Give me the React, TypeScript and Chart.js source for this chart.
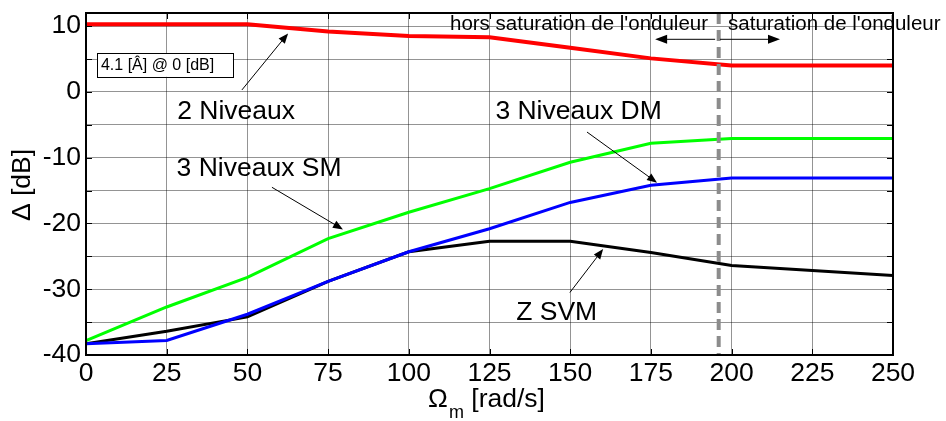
import React, { useEffect, useRef } from "react";
import { Chart, registerables } from "chart.js";

Chart.register(...registerables);

const omega = [0, 25, 50, 75, 100, 125, 150, 175, 200, 250];
const niveaux2 = [10.3, 10.3, 10.3, 9.2, 8.5, 8.3, 6.7, 5.1, 4.0, 4.0];
const niveaux3SM = [-37.8, -32.7, -28.2, -22.3, -18.3, -14.7, -10.7, -7.8, -7.1, -7.1];
const niveaux3DM = [-38.3, -37.8, -33.8, -28.8, -24.3, -20.8, -16.8, -14.2, -13.1, -13.1];
const zSVM = [-38.3, -36.4, -34.2, -28.8, -24.3, -22.7, -22.7, -24.4, -26.4, -27.9];

const xTicks = [0, 25, 50, 75, 100, 125, 150, 175, 200, 225, 250];
const yTicks = [-40, -30, -20, -10, 0, 10];
const saturationX = 196;

// text annotations in data coordinates
const labels = [
  { text: "2 Niveaux", x: 46.5, y: -3.0 },
  { text: "3 Niveaux SM", x: 53.6, y: -11.6 },
  { text: "3 Niveaux DM", x: 152.6, y: -3.0 },
  { text: "Z SVM", x: 145.8, y: -33.6 },
];
const pointerArrows = [
  { x1: 48.3, y1: 0.3, x2: 62.6, y2: 8.9 },
  { x1: 57.6, y1: -14.5, x2: 79.6, y2: -20.9 },
  { x1: 155.2, y1: -6.1, x2: 176.9, y2: -13.8 },
  { x1: 149.9, y1: -30.5, x2: 160.2, y2: -23.9 },
];

const FONT = "'Liberation Sans', Arial, Helvetica, sans-serif";
const BIG = 26.5;

function toPts(ys: number[]) {
  return omega.map((x, i) => ({ x, y: ys[i] }));
}

function arrowHead(ctx: CanvasRenderingContext2D, x1: number, y1: number, x2: number, y2: number, len: number, half: number) {
  const a = Math.atan2(y2 - y1, x2 - x1);
  ctx.beginPath();
  ctx.moveTo(x2, y2);
  ctx.lineTo(x2 - len * Math.cos(a) + half * Math.sin(a), y2 - len * Math.sin(a) - half * Math.cos(a));
  ctx.lineTo(x2 - len * Math.cos(a) - half * Math.sin(a), y2 - len * Math.sin(a) + half * Math.cos(a));
  ctx.closePath();
  ctx.fill();
}

const decorPlugin = {
  id: "decor",
  afterDatasetsDraw(chart: any) {
    const { ctx, chartArea: ca, scales } = chart;
    const xs = scales.x;
    ctx.save();
    const sx = xs.getPixelForValue(saturationX);
    ctx.strokeStyle = "#8c8c8c";
    ctx.lineWidth = 4;
    ctx.setLineDash([11, 6]);
    ctx.beginPath();
    ctx.moveTo(sx, ca.top);
    ctx.lineTo(sx, ca.bottom);
    ctx.stroke();
    ctx.setLineDash([]);
    ctx.restore();
  },
  afterDraw(chart: any) {
    const { ctx, chartArea: ca, scales } = chart;
    const xs = scales.x;
    const ys = scales.y;
    ctx.save();
    // inward tick marks
    ctx.strokeStyle = "#000";
    ctx.lineWidth = 1;
    for (let v = 0; v <= 250; v += 25) {
      const px = Math.round(xs.getPixelForValue(v)) + 0.5;
      ctx.beginPath();
      ctx.moveTo(px, ca.bottom);
      ctx.lineTo(px, ca.bottom - 6);
      ctx.moveTo(px, ca.top);
      ctx.lineTo(px, ca.top + 6);
      ctx.stroke();
    }
    for (let v = -40; v <= 10; v += 5) {
      const py = Math.round(ys.getPixelForValue(v)) + 0.5;
      ctx.beginPath();
      ctx.moveTo(ca.left, py);
      ctx.lineTo(ca.left + 6, py);
      ctx.moveTo(ca.right, py);
      ctx.lineTo(ca.right - 6, py);
      ctx.stroke();
    }
    // frame
    ctx.lineWidth = 2;
    ctx.strokeRect(ca.left, ca.top, ca.right - ca.left, ca.bottom - ca.top);

    // label box
    const bx1 = xs.getPixelForValue(3.4);
    const bx2 = xs.getPixelForValue(45.5);
    const by1 = ys.getPixelForValue(5.9);
    const by2 = ys.getPixelForValue(2.3);
    ctx.fillStyle = "#fff";
    ctx.fillRect(bx1, by1, bx2 - bx1, by2 - by1);
    ctx.lineWidth = 1;
    ctx.strokeStyle = "#000";
    ctx.strokeRect(Math.round(bx1) + 0.5, Math.round(by1) + 0.5, Math.round(bx2 - bx1), Math.round(by2 - by1));
    ctx.fillStyle = "#000";
    ctx.font = `16px ${FONT}`;
    ctx.textAlign = "left";
    ctx.textBaseline = "middle";
    ctx.fillText("4.1 [Â] @ 0 [dB]", bx1 + 4, (by1 + by2) / 2 + 1);

    // curve labels
    ctx.font = `${BIG}px ${FONT}`;
    ctx.textAlign = "center";
    ctx.textBaseline = "middle";
    for (const l of labels) {
      ctx.fillText(l.text, xs.getPixelForValue(l.x), ys.getPixelForValue(l.y));
    }
    // pointer arrows
    ctx.lineWidth = 1;
    for (const a of pointerArrows) {
      const x1 = xs.getPixelForValue(a.x1);
      const y1 = ys.getPixelForValue(a.y1);
      const x2 = xs.getPixelForValue(a.x2);
      const y2 = ys.getPixelForValue(a.y2);
      const ang = Math.atan2(y2 - y1, x2 - x1);
      ctx.beginPath();
      ctx.moveTo(x1, y1);
      ctx.lineTo(x2 - 6 * Math.cos(ang), y2 - 6 * Math.sin(ang));
      ctx.stroke();
      arrowHead(ctx, x1, y1, x2, y2, 10, 4);
    }

    // saturation annotations
    ctx.font = `20.5px ${FONT}`;
    ctx.textBaseline = "middle";
    ctx.textAlign = "right";
    const ty = ys.getPixelForValue(10.3);
    ctx.fillText("hors saturation de l'onduleur", xs.getPixelForValue(192.7), ty);
    ctx.textAlign = "left";
    ctx.fillText("saturation de l'onduleur", xs.getPixelForValue(198.9), ty);
    const ay = ys.getPixelForValue(8.0);
    const lx1 = xs.getPixelForValue(194.9);
    const lx2 = xs.getPixelForValue(176.3);
    const rx1 = xs.getPixelForValue(196.4);
    const rx2 = xs.getPixelForValue(215);
    ctx.lineWidth = 1;
    ctx.beginPath();
    ctx.moveTo(lx1, ay);
    ctx.lineTo(lx2 + 8, ay);
    ctx.moveTo(rx1, ay);
    ctx.lineTo(rx2 - 8, ay);
    ctx.stroke();
    arrowHead(ctx, lx1, ay, lx2, ay, 12, 4.5);
    arrowHead(ctx, rx1, ay, rx2, ay, 12, 4.5);

    // axis titles
    ctx.textAlign = "left";
    ctx.textBaseline = "alphabetic";
    ctx.font = `${BIG}px ${FONT}`;
    const w1 = ctx.measureText("Ω").width;
    ctx.font = `18px ${FONT}`;
    const w2 = ctx.measureText("m").width;
    ctx.font = `${BIG}px ${FONT}`;
    const w3 = ctx.measureText(" [rad/s]").width;
    const total = w1 + 1 + w2 + w3;
    let tx = (ca.left + ca.right) / 2 - 3 - total / 2;
    const tb = ca.bottom + 52;
    ctx.fillText("Ω", tx, tb);
    tx += w1 + 1;
    ctx.font = `18px ${FONT}`;
    ctx.fillText("m", tx, tb + 11);
    tx += w2;
    ctx.font = `${BIG}px ${FONT}`;
    ctx.fillText(" [rad/s]", tx, tb);

    ctx.translate(23, (ca.top + ca.bottom) / 2 + 1);
    ctx.rotate(-Math.PI / 2);
    ctx.textAlign = "center";
    ctx.textBaseline = "middle";
    ctx.fillText("Δ [dB]", 0, 0);
    ctx.restore();
  },
};

export default function App() {
  const ref = useRef<HTMLCanvasElement>(null);
  useEffect(() => {
    document.body.style.margin = "0";
    const canvas = ref.current!;
    const grid = {
      color: "rgba(0,0,0,0.42)",
      lineWidth: 1,
      drawTicks: false,
    };
    const chart = new Chart(canvas, {
      type: "line",
      data: {
        datasets: [
          { label: "2 Niveaux", data: toPts(niveaux2), borderColor: "#ff0000", borderWidth: 4, pointRadius: 0, tension: 0 },
          { label: "3 Niveaux SM", data: toPts(niveaux3SM), borderColor: "#00ff00", borderWidth: 3, pointRadius: 0, tension: 0 },
          { label: "3 Niveaux DM", data: toPts(niveaux3DM), borderColor: "#0000ff", borderWidth: 3, pointRadius: 0, tension: 0 },
          { label: "Z SVM", data: toPts(zSVM), borderColor: "#000000", borderWidth: 3, pointRadius: 0, tension: 0 },
        ],
      },
      options: {
        animation: false,
        responsive: false,
        maintainAspectRatio: false,
        layout: { padding: { left: 0, right: 53, top: 13, bottom: 0 } },
        plugins: { legend: { display: false }, tooltip: { enabled: false } },
        scales: {
          x: {
            type: "linear",
            min: 0,
            max: 250,
            border: { display: false },
            grid,
            afterBuildTicks: (s: any) => {
              s.ticks = xTicks.map((v) => ({ value: v }));
            },
            afterFit: (s: any) => {
              s.height = 66;
              s.paddingLeft = 0;
              s.paddingRight = 0;
              s.paddingTop = 0;
              s.paddingBottom = 0;
            },
            ticks: {
              color: "#000",
              font: { size: BIG, family: FONT },
              padding: 3,
              maxRotation: 0,
              autoSkip: false,
            },
          },
          y: {
            type: "linear",
            min: -40,
            max: 12,
            border: { display: false },
            grid,
            afterBuildTicks: (s: any) => {
              const t = [];
              for (let v = -40; v <= 10; v += 5) t.push({ value: v });
              s.ticks = t;
            },
            afterFit: (s: any) => {
              s.width = 86;
              s.paddingLeft = 0;
              s.paddingRight = 0;
              s.paddingTop = 0;
              s.paddingBottom = 0;
            },
            ticks: {
              color: "#000",
              font: { size: BIG, family: FONT },
              padding: 5,
              autoSkip: false,
              callback: (v: any) => (yTicks.includes(Number(v)) ? String(v) : ""),
            },
          },
        },
      },
      plugins: [decorPlugin],
    });
    return () => chart.destroy();
  }, []);
  return <canvas ref={ref} width={946} height={421} style={{ display: "block" }} />;
}
